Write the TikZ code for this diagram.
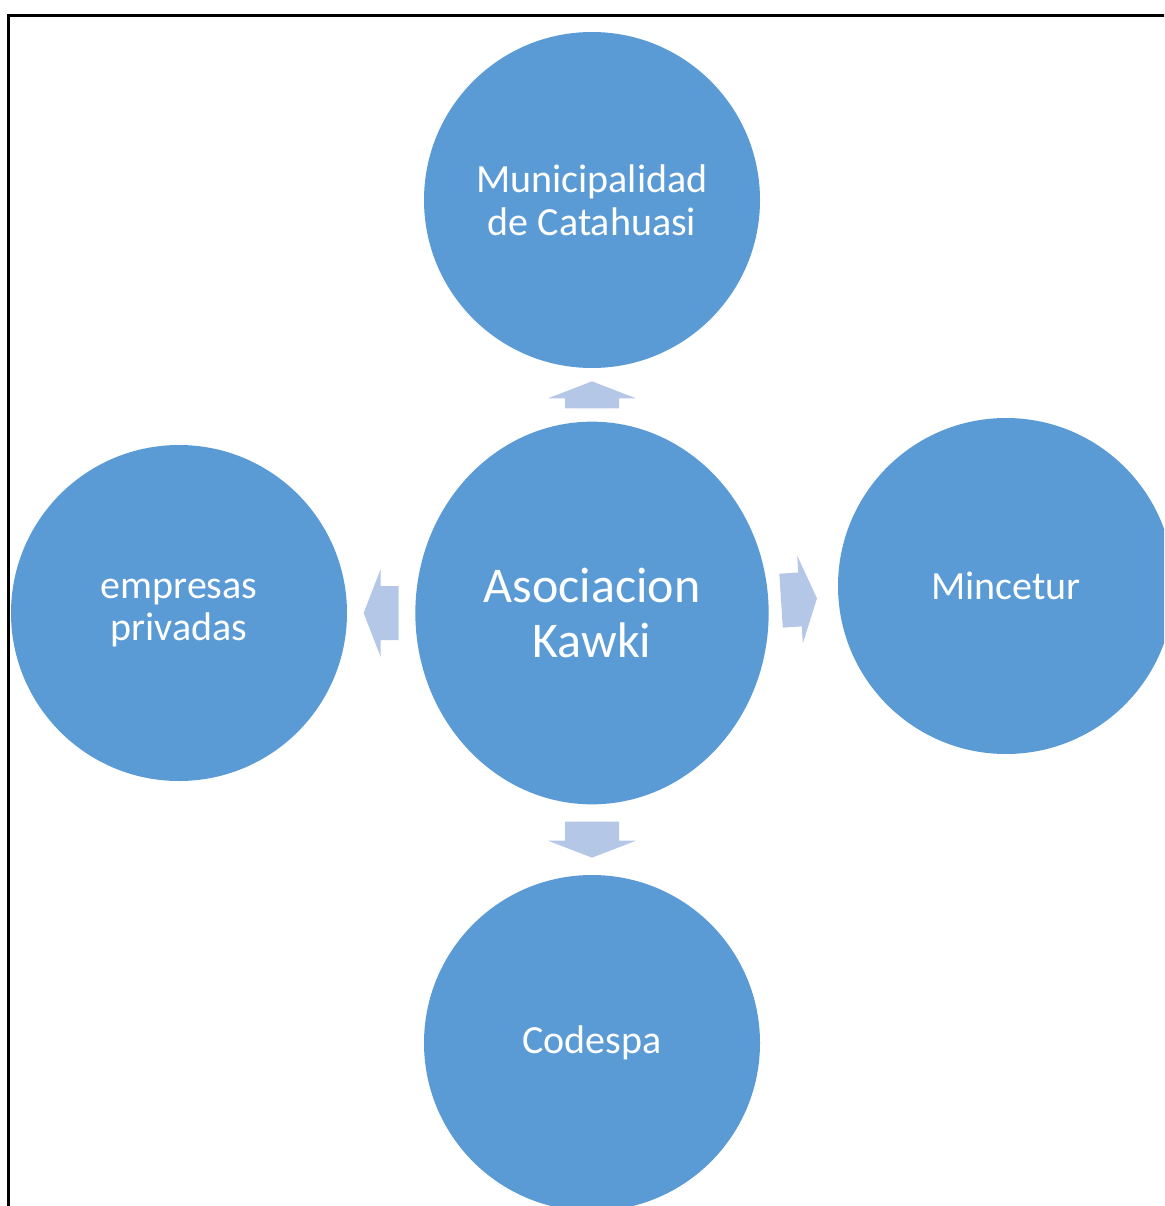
\documentclass[tikz,border=0pt]{standalone}
\usepackage{fontspec}
\setmainfont{Carlito}
\usetikzlibrary{shapes.geometric,calc}
\definecolor{bubblefill}{HTML}{5B9BD5}
\definecolor{arrowfill}{HTML}{B4C7E7}
\tikzset{
    bubble/.style={circle, fill=bubblefill, minimum size=252pt, inner sep=0pt, text=white, align=center, font=\fontsize{30}{32}\selectfont},
    hub/.style={ellipse, fill=bubblefill, minimum width=265pt, minimum height=287pt, inner sep=0pt, text=white, align=center, font=\fontsize{37.5}{41}\selectfont},
    pics/blockarrow/.style={code={
        \fill[arrowfill] (-#1/2,-27) -- (-#1/2,27) -- (#1/2-17,27) -- (#1/2-17,44) -- (#1/2,0) -- (#1/2-17,-44) -- (#1/2-17,-27) -- cycle;
    }}
}
\begin{document}
\begin{tikzpicture}[x=0.75pt, y=-0.75pt]
    \useasboundingbox (0,0) rectangle (1164,1206);
    \clip (0,0) rectangle (1164,1206);
    \draw[line width=2.25pt] (8.5,1210) -- (8.5,15.5) -- (1170,15.5);
    \node[hub] (kawki) at (592,613) {Asociacion\\Kawki};
    \node[bubble] (muni) at (592,200) {Municipalidad\\de Catahuasi};
    \node[bubble] (privadas) at (179,613) {empresas\\privadas};
    \node[bubble] (mincetur) at (1006,586) {Mincetur};
    \node[bubble] (codespa) at (592,1043) {Codespa};
    \path ($(kawki.north)!0.5!(muni.south)$) pic[rotate=90] {blockarrow=27};
    \path ($(kawki.south)!0.5!(codespa.north)$) pic[rotate=-90] {blockarrow=36};
    \path ($(kawki.west)!0.5!(privadas.east)$) pic[rotate=180] {blockarrow=35};
    \path ($(kawki)!0.5!(mincetur)$) pic[rotate=3.7] {blockarrow=36};
\end{tikzpicture}
\end{document}
